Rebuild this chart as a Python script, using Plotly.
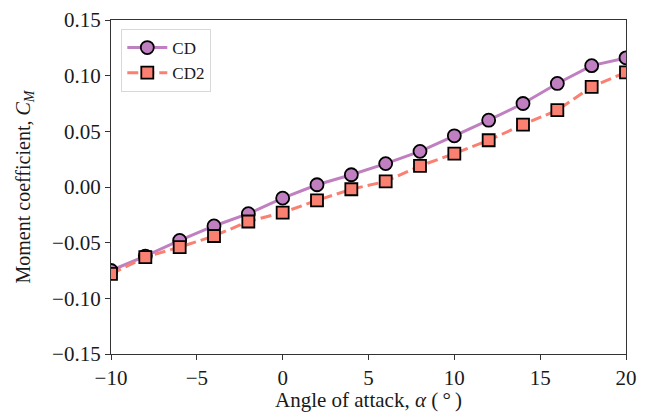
import plotly.graph_objects as go

alpha = [-10, -8, -6, -4, -2, 0, 2, 4, 6, 8, 10, 12, 14, 16, 18, 20]
cd = [-0.075, -0.062, -0.048, -0.035, -0.024, -0.010, 0.002, 0.011, 0.021, 0.032,
      0.046, 0.060, 0.075, 0.093, 0.109, 0.116]
cd2 = [-0.078, -0.063, -0.054, -0.044, -0.031, -0.023, -0.012, -0.002, 0.005, 0.019,
       0.030, 0.042, 0.056, 0.069, 0.090, 0.103]
y_ticks = [-0.15, -0.10, -0.05, 0.00, 0.05, 0.10, 0.15]
x_ticks = [-10, -5, 0, 5, 10, 15, 20]

font_family = "Liberation Serif, Times New Roman, serif"
text_color = "#1a1a1a"

fig = go.Figure()
fig.add_trace(go.Scatter(
    x=alpha, y=cd, name="CD", mode="lines+markers",
    line=dict(color="#c07fc0", width=3),
    marker=dict(symbol="circle", size=13, color="#c07fc0",
                line=dict(color="black", width=1.8)),
))
fig.add_trace(go.Scatter(
    x=alpha, y=cd2, name="CD2", mode="lines+markers",
    line=dict(color="#fa8072", width=3, dash="11px,5px"),
    marker=dict(symbol="square", size=12, color="#fa8072",
                line=dict(color="black", width=1.8)),
))

axis_common = dict(
    showgrid=False, zeroline=False, showline=True, mirror=True,
    linecolor="#333333", linewidth=1.2, ticks="outside", ticklen=5,
    tickwidth=1.2, tickcolor="#333333", automargin=False,
    tickfont=dict(family=font_family, size=21, color=text_color),
)

fig.update_layout(
    width=638, height=404,
    margin=dict(l=103, r=20, t=12, b=58),
    paper_bgcolor="white", plot_bgcolor="white",
    font=dict(family=font_family, size=20, color=text_color),
    showlegend=True,
    legend=dict(
        x=0.02, y=0.973, xanchor="left", yanchor="top",
        bgcolor="rgba(255,255,255,0.8)", bordercolor="#d8d8d8", borderwidth=1,
        font=dict(family=font_family, size=17, color=text_color),
        itemwidth=40, tracegroupgap=2,
    ),
    xaxis=dict(
        range=[-10, 20], tickvals=x_ticks,
        ticktext=[str(v).replace("-", "−") for v in x_ticks],
        title=dict(text="Angle of attack, <i>α</i> (\u2009°\u2009)", standoff=6,
                   font=dict(family=font_family, size=21, color=text_color)),
        **axis_common,
    ),
    yaxis=dict(
        range=[-0.15, 0.15], tickvals=y_ticks,
        ticktext=[f"{v:.2f}".replace("-", "−") for v in y_ticks],
        title=dict(text="Moment coefficient, <i>C</i><sub><i>M</i></sub>", standoff=16,
                   font=dict(family=font_family, size=20, color=text_color)),
        **axis_common,
    ),
)

fig.write_html("out.html")
